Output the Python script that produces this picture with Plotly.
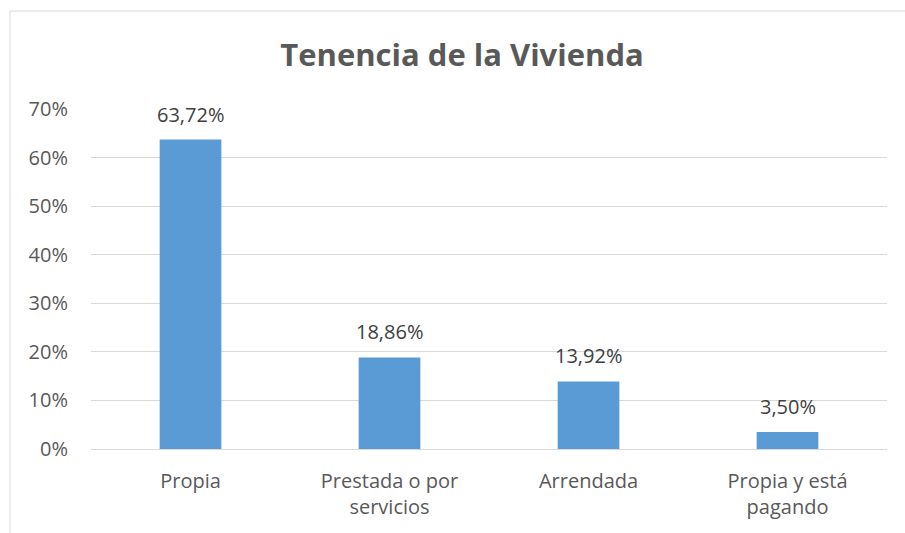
import plotly.graph_objects as go

categories = ["Propia", "Prestada o por<br>servicios", "Arrendada", "Propia y está<br>pagando"]
values = [63.72, 18.86, 13.92, 3.50]
tick_vals = [0, 10, 20, 30, 40, 50, 60, 70]
tick_text = ["0%", "10%", "20%", "30%", "40%", "50%", "60%", "70%"]
title_text = "Tenencia de la Vivienda"

FONT = "Open Sans, sans-serif"

labels = [f"{v:.2f}".replace(".", ",") + "%" for v in values]

fig = go.Figure(go.Bar(
    x=categories, y=values, marker=dict(color="#5B9BD5", line=dict(width=0)),
    width=0.31, hoverinfo="skip",
))

for c, v, t in zip(categories, values, labels):
    fig.add_annotation(x=c, y=v, text=t, showarrow=False, yanchor="bottom",
                       yshift=10, font=dict(family=FONT, size=20, color="#404040"))

fig.update_layout(
    width=905, height=533,
    margin=dict(l=91, r=18, t=109, b=84),
    paper_bgcolor="white", plot_bgcolor="white",
    title=dict(text=f"<b>{title_text}</b>", x=462 / 905, xanchor="center",
               y=1 - 55 / 533, yanchor="middle",
               font=dict(family=FONT, size=31, color="#595959")),
    font=dict(family=FONT, size=20, color="#595959"),
    showlegend=False,
    xaxis=dict(showgrid=False, showline=True, linecolor="#d9d9d9", linewidth=1,
               ticks="", tickfont=dict(size=20, color="#595959"), ticklabelstandoff=14),
    yaxis=dict(range=[0, 70], tickvals=tick_vals, ticktext=tick_text,
               showgrid=True, gridcolor="#d9d9d9", gridwidth=1, zeroline=False,
               showline=False, ticks="", ticklabelstandoff=22,
               tickfont=dict(size=20, color="#595959")),
    shapes=[
        dict(type="line", xref="paper", yref="paper", x0=-81 / 796, x1=1.05,
             y0=(449 - 11) / 340, y1=(449 - 11) / 340, line=dict(color="#d9d9d9", width=1)),
        dict(type="line", xref="paper", yref="paper", x0=-81 / 796, x1=-81 / 796,
             y0=(449 - 11) / 340, y1=-0.3, line=dict(color="#d9d9d9", width=1)),
    ],
)

fig.write_html("out.html", config={"displayModeBar": False},
               post_script="document.body.style.margin='0';")
